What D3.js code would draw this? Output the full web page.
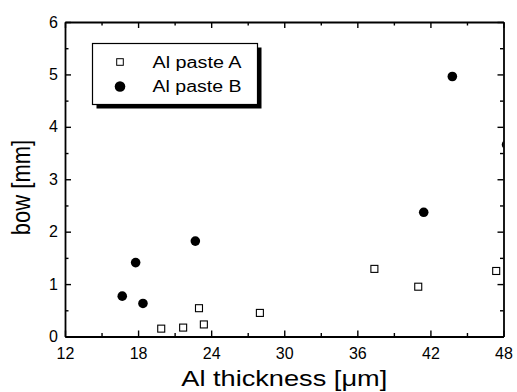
<!DOCTYPE html>
<html>
<head>
<meta charset="utf-8">
<script src="https://cdn.jsdelivr.net/npm/d3@7"></script>
<style>
  body { margin: 0; background: #fff; }
  svg { display: block; font-family: 'Liberation Sans', Arial, sans-serif; }
  .axis path, .axis line { stroke: #000; }
  .axis path { stroke-width: 1.8; }
  .axis line { stroke-width: 1.4; }
  .axis text { font-size: 16px; fill: #000; }
</style>
</head>
<body>
<svg width="517" height="392"></svg>
<script>
// data
let pasteAThickness = [19.9, 21.7, 23.0, 23.4, 28.0, 37.4, 41.0, 47.4];
let pasteABow = [0.15, 0.17, 0.54, 0.23, 0.45, 1.29, 0.95, 1.25];
let pasteBThickness = [16.7, 17.8, 18.4, 22.7, 41.45, 43.8, 48.25];
let pasteBBow = [0.77, 1.41, 0.63, 1.82, 2.37, 4.96, 3.66];
let xTicks = [12, 18, 24, 30, 36, 42, 48];
let xMinorTicks = [15, 21, 27, 33, 39, 45];
let yTicks = [0, 1, 2, 3, 4, 5, 6];
let yMinorTicks = [0.5, 1.5, 2.5, 3.5, 4.5, 5.5];
let seriesNames = ['Al paste A', 'Al paste B'];

let svg = d3.select('svg');

let plotLeft = 65, plotRight = 503.5, plotTop = 22, plotBottom = 336.5;

let x = d3.scaleLinear().domain([12, 48]).range([plotLeft, plotRight]);
let y = d3.scaleLinear().domain([0, 6]).range([plotBottom, plotTop]);

// axes, ticks point inwards on all four sides
function addAxis(axisFn, scale, ticks, minor, transform, labels) {
  let g = svg.append('g').attr('class', 'axis').attr('transform', transform);
  g.call(axisFn(scale).tickValues(ticks).tickSizeInner(-6).tickSizeOuter(0)
    .tickPadding(labels ? 9 : 0).tickFormat(labels ? d3.format('d') : ''));
  g.append('g').call(axisFn(scale).tickValues(minor).tickSizeInner(-3.5)
    .tickSizeOuter(0).tickFormat(''))
    .select('.domain').remove();
  return g;
}

let bottomAxis = addAxis(d3.axisBottom, x, xTicks, xMinorTicks, `translate(0,${plotBottom})`, true);
bottomAxis.selectAll('text').attr('dy', null).attr('y', 22);
addAxis(d3.axisTop, x, xTicks, xMinorTicks, `translate(0,${plotTop})`, false);
let leftAxis = addAxis(d3.axisLeft, y, yTicks, yMinorTicks, `translate(${plotLeft},0)`, true);
leftAxis.selectAll('text').attr('x', -7);
addAxis(d3.axisRight, y, yTicks, yMinorTicks, `translate(${plotRight},0)`, false);

// clip points to the frame
svg.append('clipPath').attr('id', 'plot-clip')
  .append('rect')
    .attr('x', plotLeft).attr('y', plotTop)
    .attr('width', plotRight - plotLeft).attr('height', plotBottom - plotTop);

let plot = svg.append('g').attr('clip-path', 'url(#plot-clip)');

let sq = 7;
plot.selectAll('rect.a')
  .data(pasteAThickness)
  .enter()
  .append('rect')
    .attr('class', 'a')
    .attr('x', (d, i) => x(d) - sq / 2)
    .attr('y', (d, i) => y(pasteABow[i]) - sq / 2)
    .attr('width', sq)
    .attr('height', sq)
    .attr('fill', '#fff')
    .attr('stroke', '#000')
    .attr('stroke-width', 1.1);

plot.selectAll('circle.b')
  .data(pasteBThickness)
  .enter()
  .append('circle')
    .attr('class', 'b')
    .attr('cx', (d, i) => x(d))
    .attr('cy', (d, i) => y(pasteBBow[i]))
    .attr('r', 4.8)
    .attr('fill', '#000');

// legend with drop shadow
let legend = svg.append('g').attr('transform', 'translate(92.5,43.5)');
legend.append('rect')
  .attr('x', 4).attr('y', 4).attr('width', 165).attr('height', 61)
  .attr('fill', '#000');
legend.append('rect')
  .attr('width', 165).attr('height', 61)
  .attr('fill', '#fff').attr('stroke', '#000').attr('stroke-width', 1.2);

legend.append('rect')
  .attr('x', 27.5 - 3.3).attr('y', 18.5 - 3.3).attr('width', 6.6).attr('height', 6.6)
  .attr('fill', '#fff').attr('stroke', '#000').attr('stroke-width', 1);
legend.append('circle')
  .attr('cx', 27.5).attr('cy', 43).attr('r', 5.3).attr('fill', '#000');

legend.selectAll('text')
  .data(seriesNames)
  .enter()
  .append('text')
    .attr('x', 60)
    .attr('y', (d, i) => 24 + i * 24.4)
    .attr('font-size', 16)
    .attr('textLength', 89)
    .attr('lengthAdjust', 'spacingAndGlyphs')
    .text(d => d);

// axis titles
svg.append('text')
  .attr('x', (plotLeft + plotRight) / 2)
  .attr('y', 386)
  .attr('text-anchor', 'middle')
  .attr('font-size', 22)
  .attr('textLength', 206)
  .attr('lengthAdjust', 'spacingAndGlyphs')
  .text('Al thickness [μm]');

svg.append('text')
  .attr('transform', 'translate(30,187.5) scale(1.15,1) rotate(-90)')
  .attr('text-anchor', 'middle')
  .attr('font-size', 22)
  .text('bow [mm]');
</script>
</body>
</html>
